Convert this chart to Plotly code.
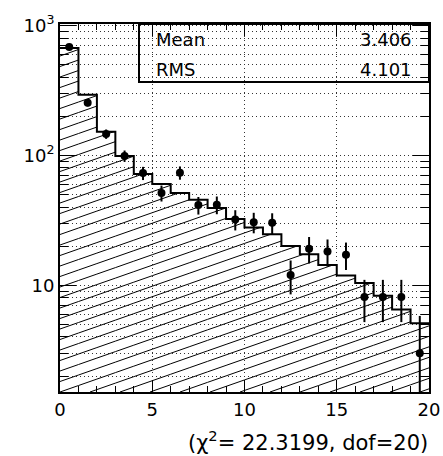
import numpy as np
import plotly.graph_objects as go

# ---- data -------------------------------------------------------------
bin_edges = list(range(0, 21))
expected = [670, 292, 152, 99, 71.8, 60.1, 51.3, 45.5, 39.3, 32.3,
            27.8, 24.7, 20.0, 17.3, 14.3, 11.9, 10.4, 8.3, 6.5, 5.1]
observed = [681, 254, 146, 99, 73, 51.3, 73.5, 41.4, 41.7, 32.1,
            30.6, 30.3, 12.0, 19.1, 18.2, 17.2, 8.1, 8.1, 8.1, 3.0]
observed_err = [26.1, 15.9, 12.1, 9.9, 8.5, 7.2, 8.6, 6.4, 6.5, 5.7,
                5.5, 5.5, 3.5, 4.4, 4.3, 4.1, 2.9, 2.9, 2.9, 2.8]

stat_labels = ["Mean", "RMS"]
stat_values = ["3.406", "4.101"]
fit_label = "(χ<sup>2</sup>= 22.3199, dof=20)"

y_tickvals = [10, 100, 1000]
y_ticktext = ["10", "10<sup>2</sup>", "10<sup>3</sup>"]
y_minor = [m * d for d in (1, 10, 100) for m in range(2, 10)]

# ---- geometry ---------------------------------------------------------
W, H = 443, 456
ML, MR, MT, MB = 60, 14, 24, 64
PW, PH = W - ML - MR, H - MT - MB
XMIN, XMAX = 0, 20
VMIN, VMAX = 0.178, 3.011          # log10 range of the y axis

FONT = "DejaVu Sans"

centers = [(a + b) / 2 for a, b in zip(bin_edges[:-1], bin_edges[1:])]

# ---- hatch lines under the histogram (straight in screen space) ------
px_per_x = PW / (XMAX - XMIN)
px_per_dec = PH / (VMAX - VMIN)
slope = 0.35 * px_per_x / px_per_dec      # decades per x unit
step = 10.5 / px_per_dec                  # vertical spacing in decades
hx, hy = [], []
c = VMIN - slope * (XMAX - XMIN)
c = VMIN - np.ceil((VMIN - c) / step) * step
while c < VMAX:
    for i in range(len(expected)):
        top = np.log10(expected[i])
        u_lo = max(bin_edges[i], (VMIN - c) / slope)
        u_hi = min(bin_edges[i + 1], (top - c) / slope)
        if u_hi > u_lo:
            hx += [u_lo, u_hi, None]
            hy += [10 ** (c + slope * u_lo), 10 ** (c + slope * u_hi), None]
    c += step

fig = go.Figure()

fig.add_trace(go.Scatter(
    x=hx, y=hy, mode="lines", line=dict(color="black", width=1),
    hoverinfo="skip", showlegend=False, connectgaps=False))

# histogram outline
fig.add_trace(go.Scatter(
    x=bin_edges, y=expected + [expected[-1]], mode="lines",
    line=dict(color="black", width=2, shape="hv"),
    hoverinfo="skip", showlegend=False))

# data points with error bars
fig.add_trace(go.Scatter(
    x=centers, y=observed, mode="markers",
    marker=dict(color="black", size=8, symbol="circle"),
    error_y=dict(type="data", array=observed_err, color="black",
                 thickness=2, width=0),
    showlegend=False))

grid = dict(gridcolor="#333333", griddash="1px,3px", gridwidth=1)

fig.update_xaxes(
    range=[XMIN, XMAX], showline=True, linewidth=2, linecolor="black",
    mirror="allticks", ticks="inside", ticklen=12, tickwidth=1,
    tickcolor="black", dtick=5, tick0=0, showgrid=True, **grid,
    zeroline=False, automargin=False,
    tickfont=dict(family=FONT, size=18, color="black"),
    minor=dict(ticks="inside", ticklen=6, dtick=1, tickcolor="black",
               showgrid=False))

fig.update_yaxes(
    type="log", range=[VMIN, VMAX], showline=True, linewidth=2,
    linecolor="black", mirror="allticks", ticks="inside", ticklen=16,
    tickwidth=1, tickcolor="black", tickmode="array",
    tickvals=y_tickvals, ticktext=y_ticktext, showgrid=True, **grid,
    zeroline=False, automargin=False,
    tickfont=dict(family=FONT, size=18, color="black"),
    minor=dict(ticks="inside", ticklen=8, tickvals=y_minor,
               tickcolor="black", showgrid=True, **grid))

# statistics box
box_x0 = (139 - ML) / PW
box_y0 = (H - MB - 82) / PH
fig.add_shape(type="rect", xref="paper", yref="paper",
              x0=box_x0, x1=1, y0=box_y0, y1=1,
              line=dict(color="black", width=2), fillcolor="rgba(0,0,0,0)")
for lab, val, ypix in zip(stat_labels, stat_values, [40, 69.5]):
    yp = (H - MB - ypix) / PH
    fig.add_annotation(xref="paper", yref="paper", x=(154 - ML) / PW, y=yp,
                       text=lab, showarrow=False, xanchor="left",
                       yanchor="middle",
                       font=dict(family=FONT, size=18, color="black"))
    fig.add_annotation(xref="paper", yref="paper", x=(414 - ML) / PW, y=yp,
                       text=val, showarrow=False, xanchor="right",
                       yanchor="middle",
                       font=dict(family=FONT, size=18, color="black"))

# fit summary under the x axis
fig.add_annotation(xref="paper", yref="paper", x=(430 - ML) / PW,
                   y=(H - MB - 441) / PH,
                   text=fit_label, showarrow=False, xanchor="right",
                   yanchor="middle",
                   font=dict(family=FONT, size=21, color="black"))

fig.update_layout(
    width=W, height=H, margin=dict(l=ML, r=MR, t=MT, b=MB),
    paper_bgcolor="white", plot_bgcolor="white", showlegend=False)

fig.write_html("out.html")
